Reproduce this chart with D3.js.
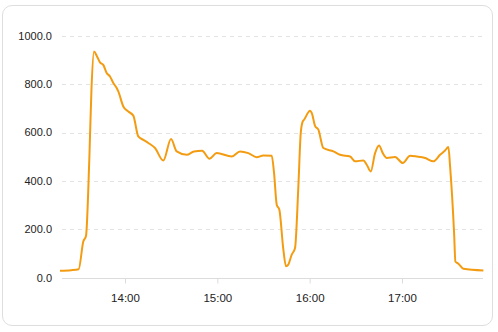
<!DOCTYPE html>
<html>
<head>
<meta charset="utf-8">
<script src="https://cdn.jsdelivr.net/npm/d3@7"></script>
<style>
  body { margin: 0; background: #fff; font-family: "Liberation Sans", Arial, sans-serif; }
  #card {
    position: absolute; left: 2px; top: 5px; width: 489px; height: 319px;
    border: 1px solid #dedede; border-radius: 10px; box-sizing: content-box;
  }
  svg { position: absolute; left: 0; top: 0; }
</style>
</head>
<body>
<div id="card"></div>
<div id="chart"></div>
<script>
var times = ["13:17:45","13:25:00","13:29:54","13:32:54","13:34:39","13:36:48","13:38:13","13:39:51",
    "13:41:36","13:43:45","13:45:54","13:48:06","13:50:15","13:52:24","13:54:36","13:55:39",
    "13:58:54","14:02:09","14:05:24","14:08:39","14:11:54","14:15:09","14:19:30","14:24:54",
    "14:29:54","14:33:36","14:40:06","14:44:51","14:50:03","14:54:56","14:59:36","15:09:21",
    "15:14:45","15:20:09","15:25:36","15:29:54","15:35:21","15:36:51","15:38:36","15:40:18",
    "15:42:54","15:44:39","15:46:06","15:48:21","15:50:30","15:52:39","15:54:12","15:55:30",
    "15:56:21","16:00:15","16:01:21","16:03:30","16:05:39","16:08:54","16:15:24","16:19:45",
    "16:26:15","16:29:30","16:34:54","16:37:06","16:39:42","16:42:30","16:45:06","16:47:30",
    "16:50:06","16:55:30","17:00:30","17:05:15","17:09:36","17:15:00","17:20:24","17:24:45",
    "17:28:00","17:30:09","17:31:15","17:33:51","17:34:42","17:36:39","17:39:54","17:52:54"];
var values = [29,31,35,150,172,488,780,935,
    918,890,880,846,832,805,784,770,
    708,687,670,584,570,557,536,484,
    573,522,508,522,525,492,515,501,
    522,515,498,505,504,433,302,281,
    116,47,54,95,123,377,598,646,
    653,690,681,628,612,536,522,508,
    501,481,485,467,439,515,547,515,
    495,499,474,504,501,495,481,508,
    526,540,460,185,67,58,37,30];
var yTicks = [0, 200, 400, 600, 800, 1000];

var parse = d3.timeParse("%Y-%m-%d %H:%M:%S");
var data = times.map(function (t, i) {
    return {t: parse("2024-01-01 " + t), v: values[i]};
});

var width = 498, height = 332;
var svg = d3.select("#chart").append("svg")
    .attr("width", width)
    .attr("height", height);

var x = d3.scaleTime()
    .domain([parse("2024-01-01 14:00:00"), parse("2024-01-01 17:00:00")])
    .range([125, 402]);
var y = d3.scaleLinear()
    .domain([0, 1000])
    .range([277.7, 35.8]);

// grid
svg.append("g")
    .selectAll("line")
    .data(yTicks.slice(1))
    .enter()
    .append("line")
    .attr("x1", 62)
    .attr("x2", 484)
    .attr("y1", function (d) { return Math.round(y(d)) + 0.5; })
    .attr("y2", function (d) { return Math.round(y(d)) + 0.5; })
    .attr("stroke", "#e3e3e3")
    .attr("stroke-dasharray", "4,4");

// y labels
svg.append("g")
    .selectAll("text")
    .data(yTicks)
    .enter()
    .append("text")
    .attr("x", 52)
    .attr("y", function (d) { return y(d); })
    .attr("dy", "0.35em")
    .attr("text-anchor", "end")
    .attr("font-size", 11)
    .attr("fill", "#222")
    .text(function (d) { return d3.format(".1f")(d); });

// x axis
var xAxis = svg.append("g")
    .attr("transform", "translate(0," + (Math.round(y(0)) + 0.5) + ")")
    .call(d3.axisBottom(x)
        .ticks(d3.timeHour.every(1))
        .tickFormat(d3.timeFormat("%H:%M"))
        .tickSize(5)
        .tickPadding(10));
xAxis.select(".domain")
    .attr("d", "M62,0H483")
    .attr("stroke", "#dcdcdc");
xAxis.selectAll(".tick line").attr("stroke", "#dcdcdc");
xAxis.selectAll(".tick text")
    .attr("font-size", 11.5)
    .attr("font-family", "Liberation Sans, Arial, sans-serif")
    .attr("fill", "#222");

var line = d3.line()
    .x(function (d) { return x(d.t); })
    .y(function (d) { return y(d.v); })
    .curve(d3.curveMonotoneX);

svg.append("path")
    .datum(data)
    .attr("fill", "none")
    .attr("stroke", "#f39c12")
    .attr("stroke-width", 2)
    .attr("stroke-linejoin", "round")
    .attr("d", line);
</script>
</body>
</html>
